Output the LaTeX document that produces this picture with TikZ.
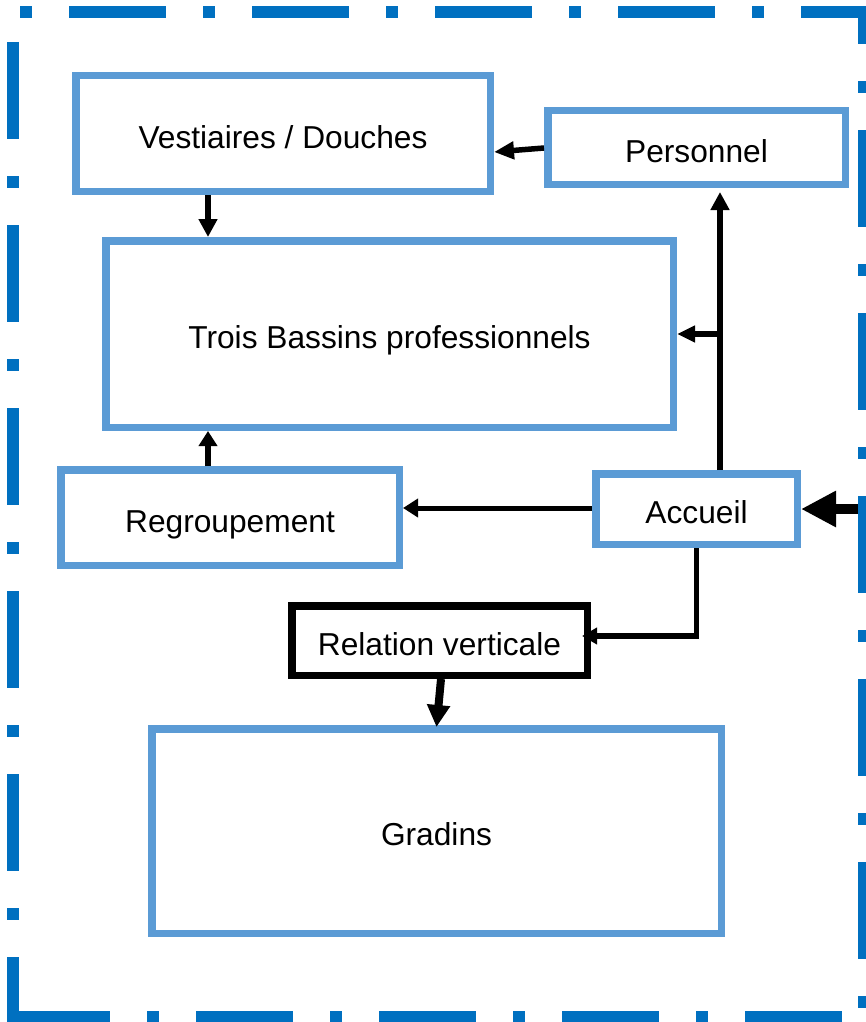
\documentclass[tikz,border=0pt]{standalone}
\usepackage{fontspec}
\setmainfont{Liberation Sans}
\usetikzlibrary{arrows.meta,calc}
\definecolor{framecol}{HTML}{0070C0}
\definecolor{boxcol}{HTML}{5B9BD5}
\begin{document}
\begin{tikzpicture}[x=1pt,y=-1pt,
  box/.style={draw=boxcol, line width=7.5pt, fill=white, inner sep=0pt,
    text height=29.8pt, text depth=0pt, font=\fontsize{31.7}{38}\selectfont},
  blackbox/.style={box, draw=black},
  conn/.style={line width=5.5pt, -{Triangle[length=18pt,width=18pt]}},
  frameline/.style={draw=framecol, line width=12pt,
    dash pattern=on 97pt off 37pt on 12pt off 37pt}
]
\useasboundingbox (0,0) rectangle (866,1022);

% boxes
\node[box, minimum width=414.5pt, minimum height=115.5pt] (vest) at (283,133.5) {Vestiaires / Douches};
\node[box, minimum width=297.5pt, minimum height=73.5pt] (pers) at (696.5,147.5) {Personnel};
\node[box, minimum width=567.5pt, minimum height=186.5pt] (trois) at (389.5,334) {Trois Bassins professionnels};
\node[box, minimum width=338.5pt, minimum height=95.5pt] (regr) at (230,517.5) {Regroupement};
\node[box, minimum width=201.5pt, minimum height=70.5pt] (acc) at (696.5,509) {Accueil};
\node[blackbox, minimum width=295.5pt, minimum height=69.5pt] (rel) at (439.5,640.5) {Relation verticale};
\node[box, minimum width=569.5pt, minimum height=204.5pt] (grad) at (436.5,831) {Gradins};

\coordinate (xa) at (208,0);
\coordinate (xb) at (720,0);
\coordinate (entry) at (866,509);

% connectors
\draw[conn, -{Triangle[length=20pt,width=17pt]}] ($(pers.west)+(0,0.5)$) -- ($(vest.east)+(0,18.5)$);
\draw[conn] (vest.south -| xa) -- (trois.north -| xa);
\draw[conn, -{Triangle[length=15pt,width=18pt]}] (regr.north -| xa) -- (trois.south -| xa);
\draw[conn, line width=5pt, -{Triangle[length=15pt,width=18pt]}] ($(acc.west)+(0,-1)$) -- ($(acc.west -| regr.east)+(0,-1)$);
\draw[conn] (acc.north -| xb) -- ($(pers.south -| xb)+(0,4)$);
\draw[conn, -{Triangle[length=18pt,width=16pt]}] (trois.east -| xb) -- (trois.east);
\draw[conn, -{Triangle[length=15pt,width=16pt]}] (acc.south) |- ($(rel.east)+(-9,-4.5)$);
\draw[conn, line width=8pt, -{Triangle[length=22pt,width=22pt]}] ($(rel.south)+(1.5,0)$) -- ($(grad.north)+(0,2)$);
\draw[line width=10pt, -{Triangle[length=35pt,width=34pt]}] (entry) -- (acc.east);

% dash-dot frame
\draw[frameline, dash phase=121pt] (7,12.5) -- (870,12.5);
\draw[frameline, dash phase=60pt] (864,7) -- (864,1022);
\draw[frameline, dash phase=148pt] (13,7) -- (13,1022);
\draw[frameline, dash phase=177pt] (7,1016.5) -- (870,1016.5);
\end{tikzpicture}
\end{document}
